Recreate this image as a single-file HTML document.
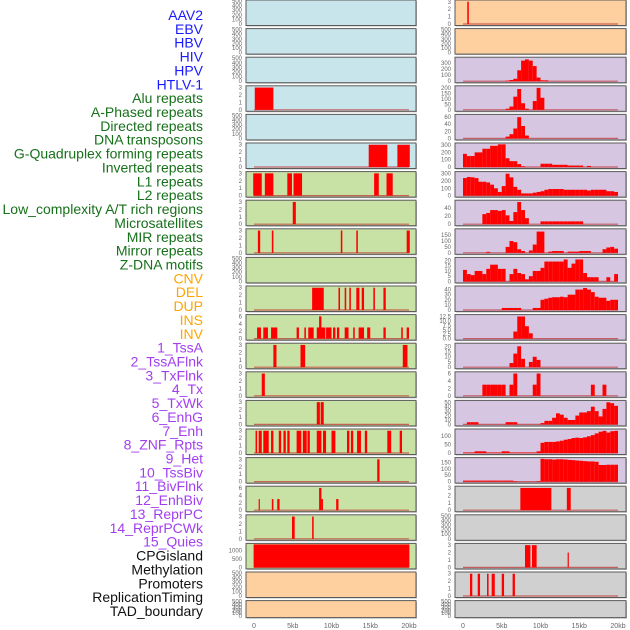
<!DOCTYPE html>
<html><head><meta charset="utf-8">
<style>
html,body{margin:0;padding:0;background:#fff;}
svg{display:block;font-family:"Liberation Sans",sans-serif;}
</style></head>
<body>
<svg id="chart" width="630" height="630" viewBox="0 0 630 630"></svg>
<script>
const labels = ["AAV2","EBV","HBV","HIV","HPV","HTLV-1","Alu repeats","A-Phased repeats","Directed repeats","DNA transposons","G-Quadruplex forming repeats","Inverted repeats","L1 repeats","L2 repeats","Low_complexity A/T rich regions","Microsatellites","MIR repeats","Mirror repeats","Z-DNA motifs","CNV","DEL","DUP","INS","INV","1_TssA","2_TssAFlnk","3_TxFlnk","4_Tx","5_TxWk","6_EnhG","7_Enh","8_ZNF_Rpts","9_Het","10_TssBiv","11_BivFlnk","12_EnhBiv","13_ReprPC","14_ReprPCWk","15_Quies","CPGisland","Methylation","Promoters","ReplicationTiming","TAD_boundary"];
const labelGroups = [6,13,5,15,5];
const groupColors = ["#1a1aff","#17701a","#ffa500","#a23ef0","#111111"];
const xTicks = [0,5,10,15,20];
const xTickLabels = ["0","5kb","10kb","15kb","20kb"];
const T500 = [0,100,200,300,400,500], T3 = [0,1,2,3], T6 = [0,2,4,6];

const leftBg = ["b","b","b","b","b","b","g","g","g","g","g","g","g","g","g","g","g","g","g","g","o","o"];
const leftYmax = [500,500,500,3.1,500,3.1,3.1,3.1,3.1,500,3.1,6.2,3.1,3.1,3.1,3.1,3.1,6.2,3.1,1380,500,500];
const leftTicks = [T500,T500,T500,T3,T500,T3,T3,T3,T3,T500,T3,T6,T3,T3,T3,T3,T3,T6,T3,[0,500,1000],T500,T500];
const leftBars = [
 [],[],[],
 [[0.1,2.5,3]],
 [],
 [[14.8,17.2,3],[18.5,20.1,3]],
 [[-0.1,1.0,3],[1.4,2.5,3],[4.3,4.9,3],[5.1,6.2,3],[15.5,16.1,3],[17.1,17.9,3]],
 [[5.0,5.4,3]],
 [[0.5,0.8,3],[2.3,2.5,3],[11.2,11.4,3],[13.2,13.4,3],[19.7,20.1,3]],
 [],
 [[7.5,9.0,3],[10.9,11.1,3],[11.7,11.9,3],[12.3,12.5,3],[13.2,13.6,3],[13.9,14.2,3],[15.4,15.6,3],[16.7,17.0,3]],
 [[0.4,0.9,3],[1.2,1.8,3],[2.2,3.0,3],[5.5,5.8,3],[6.5,6.7,3],[7.0,7.7,3],[8.1,9.2,3],[8.4,8.7,6],[9.3,10.0,3],[10.2,10.5,3],[10.7,11.0,3],[11.7,12.2,3],[12.8,13.0,3],[13.5,14.2,3],[14.6,15.0,3],[16.7,17.0,3],[19.0,19.2,3],[19.7,20.0,3]],
 [[2.5,2.9,3],[6.0,6.6,3],[19.2,19.8,3]],
 [[1.0,1.4,3]],
 [[8.1,8.5,3],[8.6,9.0,3]],
 [[0.2,0.4,3],[0.6,1.0,3],[1.2,1.9,3],[2.2,2.5,3],[3.2,3.5,3],[3.8,4.1,3],[4.3,4.6,3],[5.5,6.1,3],[6.3,6.8,3],[6.9,7.2,3],[8.1,8.7,3],[8.9,9.3,3],[10.0,10.5,3],[12.0,12.3,3],[12.5,12.8,3],[13.3,13.8,3],[14.3,14.6,3],[17.2,17.7,3],[18.8,19.1,3]],
 [[15.9,16.2,3]],
 [[0.6,0.75,3],[2.3,2.5,3],[3.0,3.3,3],[8.4,8.7,6],[8.7,8.9,3],[10.6,10.9,3]],
 [[4.9,5.25,3],[7.5,7.7,3]],
 [[-0.05,20.05,1380]],
 [],[]
];

const rightBg = ["o","o","p","p","p","p","p","p","p","p","p","p","p","p","p","p","p","y","y","y","y","y"];
const rightYmax = [3.1,500,380,210,65,315,315,57,195,22,45,13,22,6.2,52,135,180,3.1,500,3.1,3.1,500];
const rightTicks = [T3,T500,[0,100,200,300],[0,50,100,150,200],[0,20,40,60],[0,100,200,300],[0,100,200,300],[0,20,40],[0,50,100,150],[0,5,10,15,20],[0,10,20,30,40],[0,2.5,5,7.5,10,12.5],[0,5,10,15,20],T6,[0,10,20,30,40,50],[0,50,100],[0,50,100,150],T3,T500,T3,T3,T500];
const rightHist = {
 2:{11:10,12:20,13:40,14:180,15:340,16:360,17:340,18:250,19:60,20:15,21:15},
 3:{11:10,12:30,13:120,14:190,15:60,16:10,18:80,19:200,20:110},
 4:{11:5,12:12,13:28,14:60,15:35,16:8},
 5:{0:180,1:150,2:150,3:200,4:200,5:250,6:250,7:290,8:290,9:310,10:310,11:120,12:80,13:80,14:40,15:10,20:45,21:45,22:45,23:30,24:30,25:30,26:30,27:20,28:20,29:20,30:20,32:15},
 6:{0:240,1:255,2:250,3:240,4:190,5:190,6:180,7:150,8:100,9:50,10:130,11:300,12:250,13:120,14:80,15:30,16:30,17:30,18:40,19:50,20:60,21:80,22:90,23:90,24:90,25:90,26:80,27:80,28:80,29:80,30:80,31:80,32:70,33:80,34:80,35:80,36:80,37:60,38:60,39:50},
 7:{5:25,6:28,7:35,8:35,9:33,10:35,11:22,12:8,13:30,14:55,15:35,16:15,20:7,21:7,22:7,23:7,24:7,25:7,26:7,27:7,28:7,29:7,30:7},
 8:{6:8,11:50,12:100,13:90,14:30,15:15,17:20,18:70,19:180,20:180,22:10,23:15,24:15,25:15,27:10,28:10,29:10,30:15,31:15,32:15,36:30,37:45,38:50,39:35},
 9:{0:11,1:7,2:6,3:10,4:10,5:7,6:12,7:16,8:16,9:12,10:12,12:7,13:12,14:8,15:7,16:2,17:5,18:10,19:10,20:13,21:19,22:19,23:19,24:19,25:19,26:21,27:13,28:17,29:21,30:21,31:8,32:4,33:4,34:4,37:4,39:7},
 10:{10:4,11:4,12:4,13:4,14:4,18:4,19:4,20:20,21:22,22:24,23:25,24:25,25:26,26:25,27:30,28:30,29:40,30:40,31:43,32:40,33:35,34:26,35:24,36:24,37:18,38:20,39:20},
 11:{13:4,14:12.5,15:12.5,16:7,17:3},
 12:{12:4,13:13,14:20,15:8,17:5,18:10,19:7},
 13:{5:3,6:3,7:3,8:3,9:3,10:3,12:3,13:6,18:3,19:6,33:3,36:3},
 14:{1:5,2:5,3:5,11:5,12:5,13:5,20:3,21:8,22:8,23:15,24:25,25:22,26:15,27:10,28:10,29:20,30:27,31:27,32:30,33:40,34:30,35:18,36:35,37:50,38:48,39:42},
 15:{0:3,1:3,2:3,3:10,4:10,5:10,6:3,7:3,8:3,9:3,10:10,11:10,12:3,13:3,14:3,15:3,16:3,17:3,18:3,19:10,20:60,21:65,22:65,23:65,24:68,25:72,26:78,27:82,28:88,29:90,30:88,31:92,32:98,33:105,34:115,35:125,36:130,37:120,38:128,39:130},
 16:{0:8,1:8,2:8,3:8,4:8,5:8,6:8,7:8,8:8,9:8,10:8,11:8,12:8,13:4,19:5,20:178,21:175,22:175,23:172,24:175,25:175,26:173,27:170,28:168,29:165,30:163,31:160,32:158,33:158,34:155,35:130,36:130,37:132,38:132,39:132}
};
const rightBars = {
 0:[[0.55,0.75,3]],
 17:[[7.4,11.4,3],[13.4,13.9,3]],
 19:[[8.0,8.7,3],[8.9,9.5,3],[13.5,13.6,2]],
 20:[[0.9,1.2,3],[1.9,2.2,3],[3.1,3.3,3],[3.7,4.1,3],[5.0,5.3,3],[6.4,6.7,3]]
};

const NS = "http://www.w3.org/2000/svg";
const svg = document.getElementById("chart");
function mk(tag, attrs, parent){ const e=document.createElementNS(NS,tag); for(const k in attrs) e.setAttribute(k,attrs[k]); (parent||svg).appendChild(e); return e; }
const bgColors = {b:"#c9e5ec", g:"#c8e1a4", o:"#ffd09f", p:"#d6c6e2", y:"#d0d0d0"};
const rowTop = i => i*28.6;
const rowH = i => i===21 ? 17 : 25.5;
const cols = [{x:246,w:170,x0:254,bg:leftBg,ymax:leftYmax,ticks:leftTicks,side:"left"},
              {x:455,w:171,x0:463,bg:rightBg,ymax:rightYmax,ticks:rightTicks,side:"right"}];
const kbPx = 7.75;

let li=0;
labelGroups.forEach((n,g)=>{ for(let k=0;k<n;k++){
  const t = mk("text",{x:203,y:15+li*13.86+5,"text-anchor":"end","font-size":"14",fill:groupColors[g]});
  t.textContent = labels[li];
  
  
  li++; }});

cols.forEach((c,ci)=>{
  const sx = kb => c.x0 + kb*kbPx;
  for(let r=0;r<22;r++){
    const top=rowTop(r), h=rowH(r);
    const g = mk("g",{});
    
    
    mk("rect",{x:c.x+1,y:top+1,width:c.w,height:h,fill:"#bbb"},g);
    mk("rect",{x:c.x,y:top,width:c.w,height:h,fill:bgColors[c.bg[r]],stroke:"#5a5a5a","stroke-width":"1"},g);
    const ymax=c.ymax[r];
    const yb = top+h-1.5, yt = top+1;
    const sy = v => yb - (v/ymax)*(yb-yt);
    c.ticks[r].forEach(tv=>{
      const t=mk("text",{x:c.x-4,y:sy(tv)+2,"text-anchor":"end","font-size":"6",fill:"#666"},g);
      t.textContent = (r===11&&ci===1) ? tv.toFixed(1) : String(tv);
    });
    let bars=[];
    if(ci===0) bars=leftBars[r];
    else if(rightHist[r]){ const hobj=rightHist[r]; for(const b in hobj){ const i=+b; bars.push([i*0.5,i*0.5+0.5,hobj[b]]); } }
    else if(rightBars[r]) bars=rightBars[r];
    if(bars.length){
      mk("line",{x1:sx(0),x2:sx(20),y1:yb,y2:yb,stroke:"#c03030","stroke-width":"1.2","stroke-opacity":"0.7"},g);
    }
    bars.forEach(b=>{
      const x1=sx(b[0]), x2=sx(b[1]); const y=sy(Math.min(b[2],ymax));
      const rc=mk("rect",{x:x1,y:y,width:Math.max(1.2,x2-x1),height:yb-y,fill:"#ff0000"},g);
      
      
    });
  }
  xTicks.forEach((v,i)=>{
    const t=mk("text",{x:sx(v),y:628,"text-anchor":"middle","font-size":"7",fill:"#666"});
    t.textContent=xTickLabels[i];
    
    
  });
});
</script>
</body></html>
